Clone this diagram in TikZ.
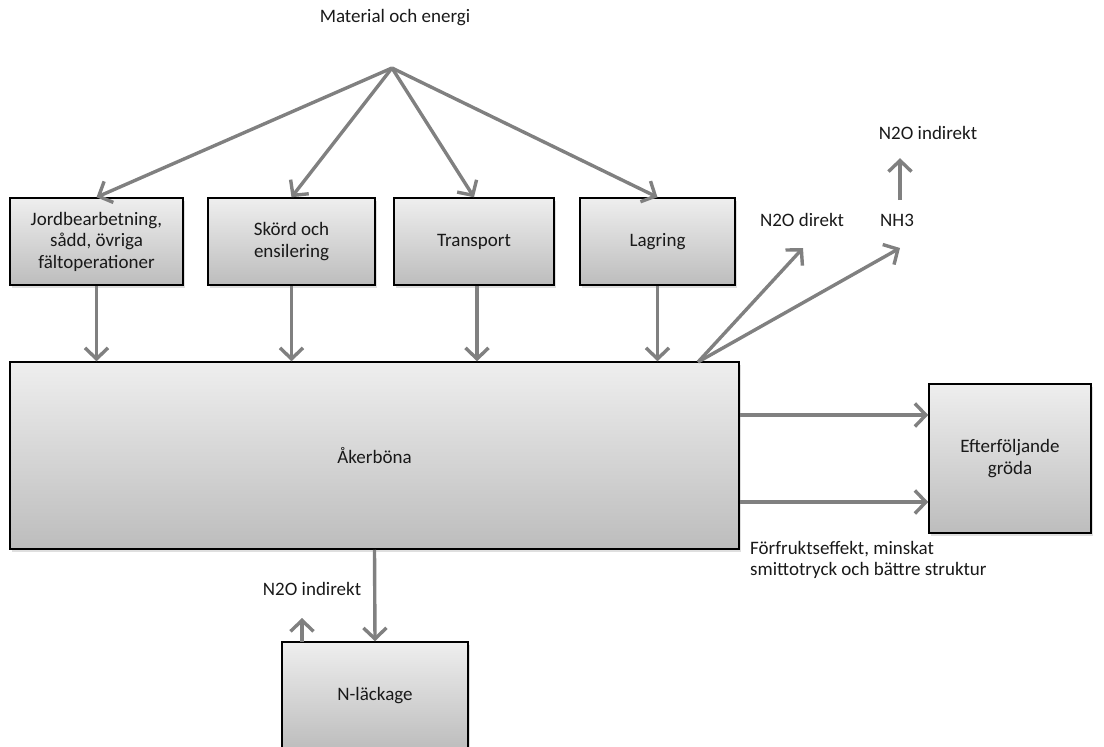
\documentclass[tikz,border=0pt]{standalone}
\usepackage{fontspec}
\setmainfont{Carlito}
\usetikzlibrary{arrows.meta,shadows}

\begin{document}
\begin{tikzpicture}[x=1pt,y=1pt]
\tikzstyle{every node}+=[font=\fontsize{19}{21.5}\selectfont, text=black!90]
\tikzstyle{ruta}=[draw=black, line width=1.5pt, top color=gray!13, bottom color=gray!52, drop shadow={opacity=0.25, shadow xshift=1.5pt, shadow yshift=-2.5pt}, align=center, inner sep=0pt]
\tikzstyle{pil}=[draw=gray, line width=3.4pt, -{Straight Barb[length=11pt, width=23pt]}]
\useasboundingbox (0,0) rectangle (1104,-747);
\node (titel) at (395,-18) {Material och energi};
\coordinate (topp) at (392,-68);
\node [ruta, minimum width=173pt, minimum height=87pt] (jord) at (96.5,-241.5) {Jordbearbetning,\\sådd, övriga\\fältoperationer};
\node [ruta, minimum width=167pt, minimum height=87pt] (skord) at (291.5,-241.5) {Skörd och\\ensilering};
\node [ruta, minimum width=160pt, minimum height=87pt] (transport) at (474,-241.5) {Transport};
\node [ruta, minimum width=155pt, minimum height=87pt] (lagring) at (657.5,-241.5) {Lagring};
\node [ruta, minimum width=729pt, minimum height=187pt] (aker) at (374.5,-455.5) {Åkerböna};
\node [ruta, minimum width=162pt, minimum height=149pt] (efter) at (1010,-458.5) {Efterföljande\\gröda};
\node [ruta, minimum width=186pt, minimum height=108pt] (lack) at (375,-696) {N-läckage};
\node (n2od) at (802,-220) {N2O direkt};
\node (nh3) at (897,-220) {NH3};
\node (n2oi) at (928,-133) {N2O indirekt};
\node (n2oilack) at (312,-589) {N2O indirekt};
\node [anchor=north west, align=left, inner sep=0pt] (forfrukt) at (750,-541) {Förfruktseffekt, minskat\\smittotryck och bättre struktur};
\coordinate (ut) at (698,-362);
\coordinate (n2odin) at (803,-248);
\coordinate (nh3in) at (900,-248);
\coordinate (lackut) at (302,-642);
\draw [pil] (topp) -- (jord.north);
\draw [pil] (topp) -- (skord.north);
\draw [pil] (topp) -- (transport.north);
\draw [pil] (topp) -- (lagring.north);
\draw [pil] (jord.south) -- (jord.south |- aker.north);
\draw [pil] (skord.south) -- (skord.south |- aker.north);
\draw [pil] ([xshift=3pt]transport.south) -- ([xshift=3pt]transport.south |- aker.north);
\draw [pil] (lagring.south) -- (lagring.south |- aker.north);
\draw [pil] (ut) -- (n2odin);
\draw [pil] (ut) -- (nh3in);
\draw [pil, shorten <=10pt, shorten >=15pt] (nh3.north -| nh3in) -- (n2oi.south -| nh3in);
\draw [pil] (aker.east |- 0,-415) -- (efter.west |- 0,-415);
\draw [pil] (aker.east |- 0,-502) -- (efter.west |- 0,-502);
\draw [pil] (aker.south) -- (lack.north);
\draw [pil] (lackut) -- ++(0,24);
\end{tikzpicture}
\end{document}
